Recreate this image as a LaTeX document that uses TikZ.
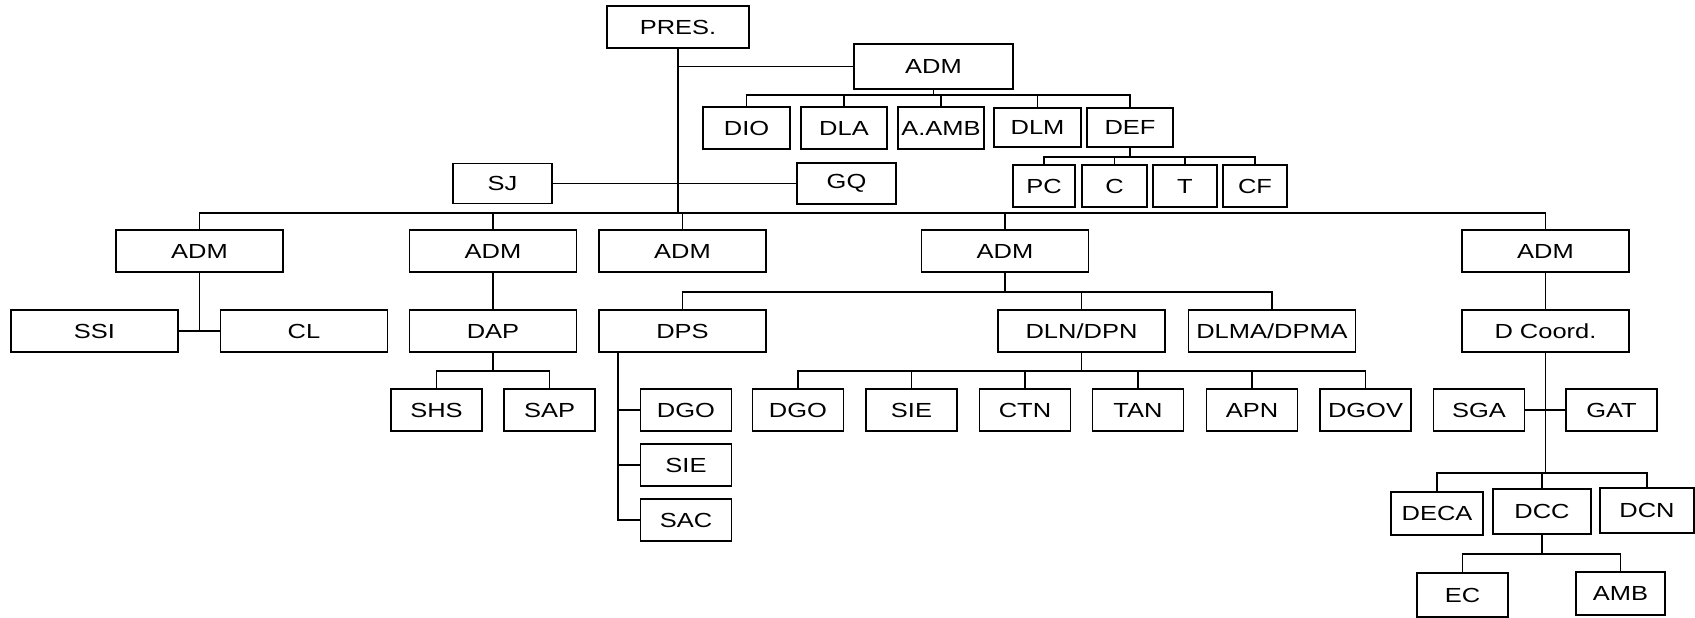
\documentclass[tikz,border=0pt]{standalone}
\usepackage{fontspec}
\setmainfont[FakeStretch=1.25]{Liberation Sans}

\begin{document}
\begin{tikzpicture}[x=0.02cm, y=-0.02cm, line width=0.95pt,
  box/.style={draw, inner sep=0pt, minimum height=0.84cm, font=\fontsize{11.6}{13}\selectfont},
  wide/.style={box, minimum width=3.34cm},
  unit/.style={box, minimum width=1.82cm}]
  \useasboundingbox (0,0) rectangle (1695,618);

  \node[box, minimum width=2.84cm] (pres) at (678,27) {PRES.};
  \node[box, minimum width=3.18cm, minimum height=0.9cm] (adm) at (933.5,66.5) {ADM};
  \node[box, minimum width=1.74cm] (dio) at (746.5,128) {DIO};
  \node[box, minimum width=1.72cm] (dla) at (844,128) {DLA};
  \node[box, minimum width=1.72cm] (aamb) at (941,128) {A.AMB};
  \node[box, minimum width=1.74cm, minimum height=0.78cm] (dlm) at (1037.5,127.5) {DLM};
  \node[box, minimum width=1.72cm, minimum height=0.78cm] (def) at (1130,127.5) {DEF};
  \node[box, minimum width=1.24cm] (pc) at (1044,186) {PC};
  \node[box, minimum width=1.30cm] (c) at (1114.5,186) {C};
  \node[box, minimum width=1.28cm] (t) at (1185,186) {T};
  \node[box, minimum width=1.28cm] (cf) at (1255,186) {CF};
  \node[box, minimum width=1.98cm, minimum height=0.8cm] (sj) at (502.5,183.5) {SJ};
  \node[box, minimum width=1.98cm, minimum height=0.82cm] (gq) at (846.5,183.5) {GQ};

  \node[wide] (adma) at (199.5,251) {ADM};
  \node[wide] (admb) at (493,251) {ADM};
  \node[wide] (admc) at (682.5,251) {ADM};
  \node[wide] (admd) at (1005,251) {ADM};
  \node[wide] (adme) at (1545.5,251) {ADM};

  \node[wide] (ssi) at (94.5,331) {SSI};
  \node[wide] (cl) at (304,331) {CL};
  \node[wide] (dap) at (493,331) {DAP};
  \node[wide] (dps) at (682.5,331) {DPS};
  \node[wide] (dln) at (1081.5,331) {DLN/DPN};
  \node[wide] (dlma) at (1272,331) {DLMA/DPMA};
  \node[wide] (dcoord) at (1545.5,331) {D Coord.};

  \node[unit] (shs) at (436.5,410) {SHS};
  \node[unit] (sap) at (549.5,410) {SAP};
  \node[unit] (dgoa) at (686,410) {DGO};
  \node[unit] (siea) at (686,465) {SIE};
  \node[unit] (sac) at (686,520) {SAC};
  \node[unit] (dgob) at (798,410) {DGO};
  \node[unit] (sieb) at (911.5,410) {SIE};
  \node[unit] (ctn) at (1025,410) {CTN};
  \node[unit] (tan) at (1138,410) {TAN};
  \node[unit] (apn) at (1252,410) {APN};
  \node[unit] (dgov) at (1365.5,410) {DGOV};
  \node[unit] (sga) at (1479,410) {SGA};
  \node[unit] (gat) at (1611.5,410) {GAT};

  \node[box, minimum width=1.84cm, minimum height=0.86cm] (deca) at (1437,513.5) {DECA};
  \node[box, minimum width=1.96cm, minimum height=0.9cm] (dcc) at (1542,511.5) {DCC};
  \node[box, minimum width=1.88cm, minimum height=0.9cm] (dcn) at (1647,510.5) {DCN};
  \node[box, minimum width=1.82cm, minimum height=0.88cm] (ec) at (1462.5,595) {EC};
  \node[box, minimum width=1.78cm, minimum height=0.86cm] (amb) at (1620.5,593.5) {AMB};

  \coordinate (mainbus) at (678,213);
  \coordinate (admbus) at (933.5,95);
  \coordinate (defbus) at (1130,157);
  \coordinate (dapbus) at (493,371);
  \coordinate (admdbus) at (1005,292);
  \coordinate (dlnbus) at (1081.5,371);
  \coordinate (coordbus) at (1545.5,473);
  \coordinate (dccbus) at (1542,554);

  \draw (pres.south) -- (mainbus);
  \draw (pres.south |- adm.west) -- (adm.west);
  \draw (sj.east) -- (gq.west);

  \draw (adm.south) -- (admbus);
  \draw (dio.north) |- (admbus) -| (def.north);
  \foreach \n in {dla,aamb,dlm} \draw (\n.north) -- (\n.north |- admbus);
  \draw (def.south) -- (defbus);
  \draw (pc.north) |- (defbus) -| (cf.north);
  \foreach \n in {c,t} \draw (\n.north) -- (\n.north |- defbus);

  \draw (adma.north) |- (mainbus) -| (adme.north);
  \foreach \n in {admb,admc,admd} \draw (\n.north) -- (\n.north |- mainbus);

  \draw (adma.south) -- (adma.south |- ssi.east);
  \draw (ssi.east) -- (cl.west);
  \draw (admb.south) -- (dap.north);
  \draw (dap.south) -- (dapbus);
  \draw (shs.north) |- (dapbus) -| (sap.north);

  \draw (admd.south) -- (admdbus);
  \draw (dps.north) |- (admdbus) -| (dlma.north);
  \draw (dln.north) -- (dln.north |- admdbus);
  \draw ([xshift=0.4cm]dps.south west) |- (sac.west);
  \foreach \n in {dgoa,siea} \draw (\n.west) -- ++(-22,0);
  \draw (dln.south) -- (dlnbus);
  \draw (dgob.north) |- (dlnbus) -| (dgov.north);
  \foreach \n in {sieb,ctn,tan,apn} \draw (\n.north) -- (\n.north |- dlnbus);

  \draw (adme.south) -- (dcoord.north);
  \draw (dcoord.south) -- (coordbus);
  \draw (sga.east) -- (gat.west);
  \draw (deca.north) |- (coordbus) -| (dcn.north);
  \draw (dcc.north) -- (dcc.north |- coordbus);
  \draw (dcc.south) -- (dccbus);
  \draw (ec.north) |- (dccbus) -| (amb.north);
\end{tikzpicture}
\end{document}
